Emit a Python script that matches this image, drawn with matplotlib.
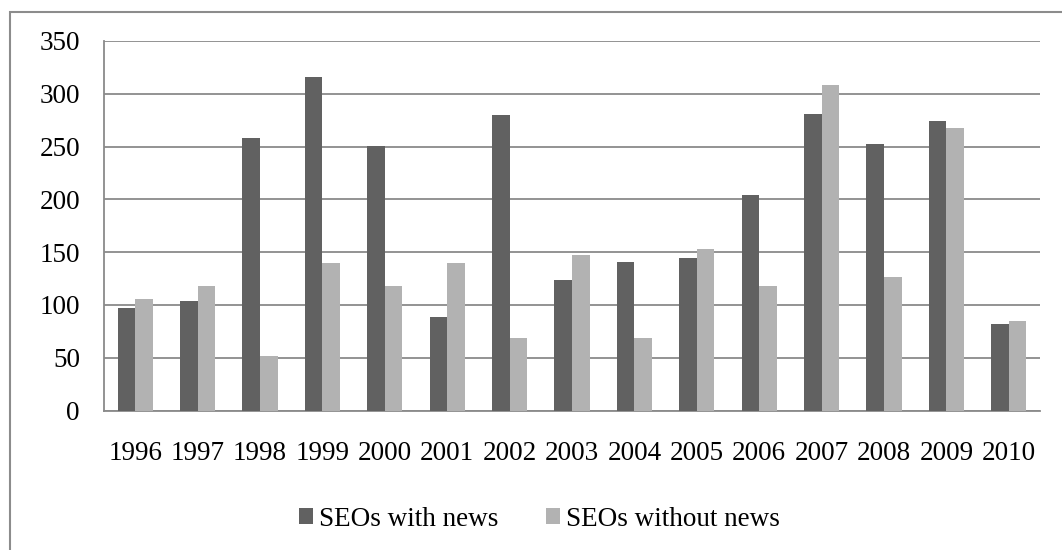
import matplotlib
matplotlib.use("Agg")
import matplotlib.pyplot as plt
import numpy as np
from matplotlib.patches import Rectangle

years = ["1996", "1997", "1998", "1999", "2000", "2001", "2002", "2003",
         "2004", "2005", "2006", "2007", "2008", "2009", "2010"]
with_news = [97, 104, 258, 316, 251, 89, 280, 124, 141, 144, 204, 281, 252, 274, 82]
without_news = [106, 118, 52, 140, 118, 140, 69, 147, 69, 153, 118, 308, 126, 268, 85]
yticks = [0, 50, 100, 150, 200, 250, 300, 350]

plt.rcParams['font.family'] = ['Liberation Serif', 'DejaVu Serif']

W, H = 1062, 550
FS = 19.5
fig = plt.figure(figsize=(W / 100, H / 100), dpi=100)
fig.patch.set_facecolor("white")

# outer chart border (left/top visible)
fig.patches.append(Rectangle((10 / W, -0.05), 1.2, 1 - 12 / H + 0.05,
                             transform=fig.transFigure, fill=False,
                             edgecolor="#8c8c8c", linewidth=1.5))

left, right, top, bottom = 104, 1040, 41, 410.5
ax = fig.add_axes([left / W, 1 - bottom / H, (right - left) / W, (bottom - top) / H])

x = np.arange(len(years))
bw = 0.283
ax.bar(x - bw / 2, with_news, width=bw, color="#616161", label="SEOs with news", zorder=3)
ax.bar(x + bw / 2, without_news, width=bw, color="#b2b2b2", label="SEOs without news", zorder=3)

ax.set_xlim(-0.5, len(years) - 0.5)
ax.set_ylim(0, 350)
ax.set_yticks(yticks)
ax.set_xticks(x)
ax.set_xticklabels(years)
ax.yaxis.grid(True, color="#8a8a8a", linewidth=1.3, zorder=0)
ax.set_axisbelow(True)
for s in ["top", "right"]:
    ax.spines[s].set_visible(False)
ax.spines["left"].set_color("#8a8a8a")
ax.spines["left"].set_linewidth(1.3)
ax.spines["bottom"].set_color("#8a8a8a")
ax.spines["bottom"].set_linewidth(1.3)
ax.tick_params(axis="both", length=0, labelsize=FS)
ax.tick_params(axis="y", pad=17.3)
ax.tick_params(axis="x", pad=22)

leg = fig.legend(loc="center", bbox_to_anchor=(539.5 / W, 1 - 519 / H), ncol=2,
                 frameon=False, fontsize=FS, handlelength=0.52, handleheight=0.52,
                 handletextpad=0.22, columnspacing=1.78, borderpad=0, borderaxespad=0)

fig.savefig("out.png", dpi=100)
